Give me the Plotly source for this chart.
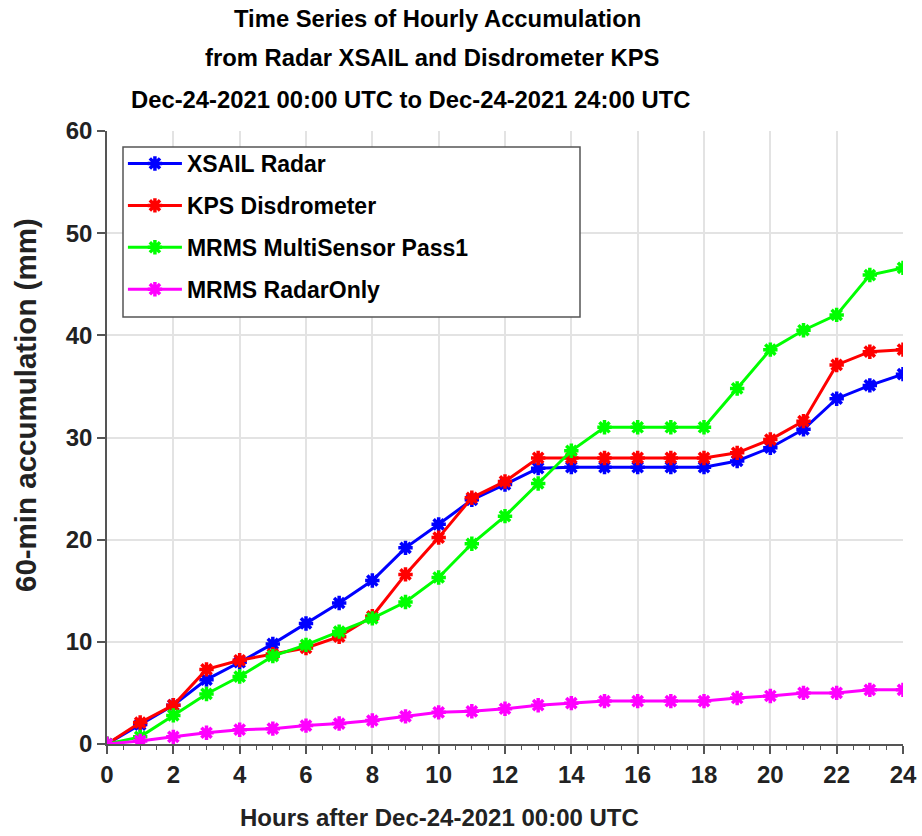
import plotly.graph_objects as go

hours = list(range(25))
xsail = [0, 1.9, 3.8, 6.3, 8.0, 9.8, 11.8, 13.8, 16.0, 19.2, 21.5, 23.9, 25.4, 27.0,
         27.1, 27.1, 27.1, 27.1, 27.1, 27.7, 29.0, 30.8, 33.8, 35.1, 36.2]
kps = [0, 2.1, 3.8, 7.3, 8.2, 8.8, 9.4, 10.5, 12.5, 16.6, 20.2, 24.1, 25.7, 28.0,
       28.0, 28.0, 28.0, 28.0, 28.0, 28.5, 29.8, 31.6, 37.1, 38.4, 38.6]
mrms_ms = [0, 0.7, 2.8, 4.9, 6.6, 8.6, 9.7, 11.0, 12.3, 13.9, 16.3, 19.6, 22.3, 25.5,
           28.7, 31.0, 31.0, 31.0, 31.0, 34.8, 38.6, 40.5, 42.0, 45.9, 46.6]
mrms_ro = [0, 0.3, 0.7, 1.1, 1.4, 1.5, 1.8, 2.0, 2.3, 2.7, 3.1, 3.2, 3.45, 3.8,
           4.0, 4.2, 4.2, 4.2, 4.2, 4.5, 4.7, 5.0, 5.0, 5.3, 5.3]

names = ["XSAIL Radar", "KPS Disdrometer", "MRMS MultiSensor Pass1", "MRMS RadarOnly"]
colors = ["#0000ff", "#ff0000", "#00ff00", "#ff00ff"]
series = [xsail, kps, mrms_ms, mrms_ro]

title_lines = ["Time Series of Hourly Accumulation",
               "from Radar XSAIL and Disdrometer KPS",
               "Dec-24-2021 00:00 UTC to Dec-24-2021 24:00 UTC"]
x_title = "Hours after Dec-24-2021 00:00 UTC"
y_title = "60-min accumulation (mm)"

FONT = "Liberation Sans"

fig = go.Figure()
for i, (nm, col, ys) in enumerate(zip(names, colors, series)):
    fig.add_trace(go.Scatter(
        x=hours, y=ys, name=nm, mode="lines+markers",
        line=dict(color=col, width=3),
        marker=dict(symbol="asterisk-open", size=12, color=col,
                    line=dict(color=col, width=3.5)),
        legendgroup=str(i),
    ))

annotations = []
for txt, xp, yp in zip(title_lines, [0.415, 0.408, 0.382], [1.1843, 1.1191, 1.0506]):
    annotations.append(dict(text=txt, xref="paper", yref="paper", x=xp, y=yp,
                            xanchor="center", yanchor="middle", showarrow=False,
                            font=dict(family=FONT, size=23.8, color="#000000", weight="bold")))
annotations.append(dict(text=x_title, xref="paper", yref="paper", x=0.418, y=-0.1207,
                        xanchor="center", yanchor="middle", showarrow=False,
                        font=dict(family=FONT, size=24, color="#222222", weight="bold")))
annotations.append(dict(text=y_title, xref="paper", yref="paper", x=-0.103, y=0.553,
                        xanchor="center", yanchor="middle", showarrow=False, textangle=-90,
                        font=dict(family=FONT, size=29.5, color="#222222", weight="bold")))

fig.update_layout(
    width=922, height=836,
    margin=dict(l=107, r=19, t=131, b=92),
    paper_bgcolor="white", plot_bgcolor="white",
    font=dict(family=FONT, color="#000000"),
    showlegend=True,
    legend=dict(
        x=0.02, y=0.982, xanchor="left", yanchor="top",
        bgcolor="rgba(0,0,0,0)", borderwidth=0,
        font=dict(family=FONT, size=23, color="#000000", weight="bold"),
        traceorder="grouped", tracegroupgap=9,
        itemwidth=54,
    ),
    shapes=[dict(type="rect", xref="paper", yref="paper",
                 x0=(123 - 107) / 796, x1=(580 - 107) / 796,
                 y0=(744 - 317) / 613, y1=(744 - 147) / 613,
                 line=dict(color="#555555", width=1.5), fillcolor="white", layer="above")],
    annotations=annotations,
    xaxis=dict(
        range=[0, 24], tickmode="array", tickvals=list(range(0, 25, 2)),
        ticks="outside", ticklen=8, tickwidth=1.5, tickcolor="#555555",
        showline=True, linecolor="#555555", linewidth=1.5,
        showgrid=True, gridcolor="#e3e3e3", gridwidth=1.5,
        zeroline=False, automargin=False,
        minor=dict(dtick=0.5, ticks="outside", ticklen=4, tickcolor="#555555", tickwidth=1.2, showgrid=False),
        tickfont=dict(family=FONT, size=24, color="#222222", weight="bold"),
    ),
    yaxis=dict(
        range=[0, 60], tickmode="array", tickvals=list(range(0, 61, 10)),
        ticks="outside", ticklen=8, tickwidth=1.5, tickcolor="#555555",
        showline=True, linecolor="#555555", linewidth=1.5,
        showgrid=True, gridcolor="#e3e3e3", gridwidth=1.5,
        zeroline=False, automargin=False,
        tickfont=dict(family=FONT, size=24, color="#222222", weight="bold"),
    ),
)

fig.write_html("out.html")
